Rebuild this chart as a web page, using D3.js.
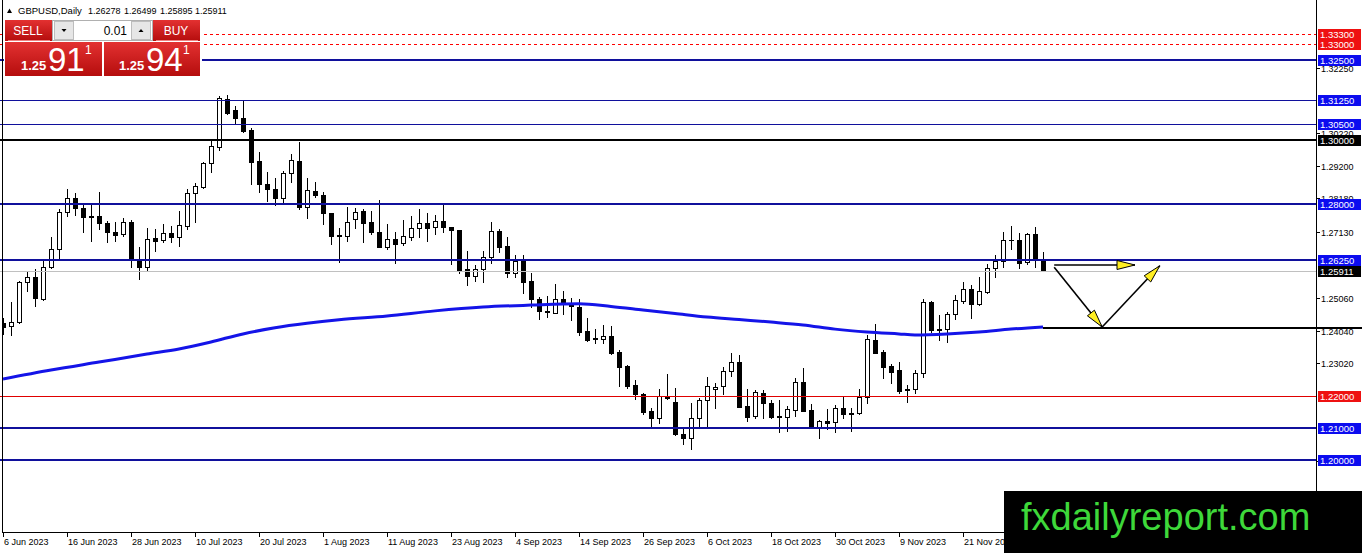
<!DOCTYPE html>
<html><head><meta charset="utf-8">
<script src="https://cdn.jsdelivr.net/npm/d3@7"></script>
<style>html,body{margin:0;padding:0;background:#fff;overflow:hidden}text{font-family:"Liberation Sans",Arial,sans-serif}</style>
</head><body>
<svg id="c" width="1362" height="553" xmlns="http://www.w3.org/2000/svg"></svg>
<script>
// ---------------- DATA ----------------
const symbol = "GBPUSD,Daily";
const lastOHLC = ["1.26278", "1.26499", "1.25895", "1.25911"];
const opens = [1.2429,1.2418,1.2430,1.2555,1.2573,1.2503,1.2604,1.2658,1.2776,1.2818,
1.2787,1.2763,1.2763,1.2742,1.2711,1.2705,1.2743,1.2628,1.2604,1.2693,
1.2688,1.2708,1.2698,1.2732,1.2833,1.2854,1.2927,1.2979,1.3127,1.3094,
1.3068,1.3031,1.2934,1.2862,1.2847,1.2818,1.2896,1.2934,1.2790,1.2841,
1.2828,1.2771,1.2703,1.2701,1.2752,1.2778,1.2743,1.2712,1.2667,1.2690,
1.2678,1.2698,1.2724,1.2740,1.2727,1.2748,1.2727,1.2719,1.2596,1.2575,
1.2596,1.2635,1.2716,1.2669,1.2583,1.2628,1.2559,1.2503,1.2466,1.2460,
1.2502,1.2490,1.2479,1.2403,1.2380,1.2377,1.2388,1.2338,1.2294,1.2234,
1.2205,1.2153,1.2130,1.2198,1.2180,1.2081,1.2070,1.2130,1.2188,1.2221,
1.2231,1.2279,1.2307,1.2169,1.2139,1.2208,1.2177,1.2138,1.2135,1.2156,
1.2243,1.2156,1.2104,1.2122,1.2120,1.2161,1.2146,1.2146,1.2196,1.2375,
1.2336,1.2294,1.2281,1.2219,1.2221,1.2271,1.2495,1.2407,1.2408,1.2455,
1.2498,1.2533,1.2487,1.2526,1.2599,1.2623,1.2688,1.2688,1.2620,1.2706,
1.26278];
const highs = [1.2445,1.2495,1.2560,1.2587,1.2597,1.2622,1.2696,1.2783,1.2847,1.2833,
1.2797,1.2802,1.2837,1.2748,1.2745,1.2757,1.2750,1.2667,1.2726,1.2722,
1.2736,1.2731,1.2778,1.2847,1.2865,1.2930,1.3000,1.3138,1.3141,1.3107,
1.3125,1.3038,1.2963,1.2899,1.2880,1.2903,1.2956,1.2993,1.2880,1.2868,
1.2838,1.2773,1.2724,1.2790,1.2788,1.2783,1.2778,1.2813,1.2736,1.2711,
1.2750,1.2761,1.2783,1.2771,1.2766,1.2800,1.2729,1.2720,1.2653,1.2609,
1.2653,1.2745,1.2722,1.2698,1.2641,1.2640,1.2583,1.2510,1.2513,1.2549,
1.2528,1.2505,1.2502,1.2443,1.2408,1.2422,1.2419,1.2344,1.2296,1.2250,
1.2210,1.2161,1.2221,1.2268,1.2224,1.2096,1.2177,1.2193,1.2258,1.2242,
1.2292,1.2333,1.2328,1.2221,1.2219,1.2219,1.2188,1.2188,1.2169,1.2255,
1.2287,1.2174,1.2124,1.2159,1.2172,1.2200,1.2163,1.2222,1.2391,1.2425,
1.2344,1.2299,1.2305,1.2234,1.2281,1.2503,1.2498,1.2453,1.2463,1.2516,
1.2555,1.2547,1.2571,1.2612,1.2641,1.2712,1.2731,1.2708,1.2710,1.2729,
1.26499];
const lows = [1.2395,1.2391,1.2428,1.2529,1.2482,1.2500,1.2599,1.2628,1.2763,1.2766,
1.2712,1.2685,1.2722,1.2682,1.2685,1.2699,1.2602,1.2566,1.2594,1.2654,
1.2682,1.2682,1.2670,1.2722,1.2745,1.2851,1.2899,1.2969,1.3080,1.3050,
1.3026,1.2862,1.2836,1.2809,1.2797,1.2802,1.2870,1.2785,1.2757,1.2823,
1.2737,1.2675,1.2620,1.2685,1.2724,1.2680,1.2705,1.2665,1.2659,1.2615,
1.2672,1.2688,1.2698,1.2685,1.2706,1.2714,1.2613,1.2583,1.2547,1.2560,
1.2557,1.2617,1.2649,1.2573,1.2572,1.2523,1.2479,1.2441,1.2448,1.2458,
1.2455,1.2438,1.2391,1.2373,1.2367,1.2367,1.2331,1.2231,1.2226,1.2190,
1.2144,1.2107,1.2117,1.2190,1.2078,1.2049,1.2033,1.2102,1.2102,1.2161,
1.2206,1.2263,1.2165,1.2122,1.2130,1.2130,1.2131,1.2087,1.2091,1.2138,
1.2152,1.2102,1.2068,1.2097,1.2089,1.2130,1.2092,1.2144,1.2179,1.2333,
1.2257,1.2240,1.2208,1.2182,1.2208,1.2260,1.2401,1.2375,1.2370,1.2441,
1.2490,1.2445,1.2485,1.2523,1.2571,1.2604,1.2658,1.2599,1.2612,1.2602,
1.25895];
const closes = [1.2417,1.2430,1.2555,1.2573,1.2505,1.2604,1.2658,1.2776,1.2818,1.2787,
1.2758,1.2758,1.2740,1.2711,1.2703,1.2743,1.2628,1.2604,1.2690,1.2685,
1.2708,1.2698,1.2734,1.2833,1.2856,1.2927,1.2981,1.3130,1.3085,1.3068,
1.3029,1.2932,1.2862,1.2846,1.2818,1.2896,1.2938,1.2790,1.2843,1.2827,
1.2771,1.2701,1.2700,1.2745,1.2776,1.2742,1.2711,1.2667,1.2690,1.2675,
1.2700,1.2724,1.2740,1.2726,1.2748,1.2727,1.2719,1.2594,1.2575,1.2596,
1.2635,1.2716,1.2667,1.2583,1.2622,1.2557,1.2502,1.2465,1.2462,1.2502,
1.2487,1.2482,1.2401,1.2375,1.2377,1.2388,1.2335,1.2292,1.2231,1.2205,
1.2151,1.2130,1.2200,1.2193,1.2080,1.2070,1.2130,1.2188,1.2232,1.2229,
1.2279,1.2307,1.2167,1.2135,1.2211,1.2177,1.2133,1.2134,1.2159,1.2243,
1.2154,1.2104,1.2122,1.2115,1.2161,1.2143,1.2143,1.2196,1.2377,1.2335,
1.2292,1.2276,1.2217,1.2221,1.2271,1.2493,1.2406,1.2409,1.2455,1.2500,
1.2533,1.2487,1.2528,1.2599,1.2623,1.2688,1.2686,1.2617,1.2706,1.2627,
1.25911];
// moving average (bar index, value)
const maIdx = [0,6,12,18,22,26,30,34,38,42,48,54,60,66,72,76,80,84,88,92,96,100,104,108,112,114,118,122,126,130];
const maVal = [1.2253,1.2281,1.2306,1.2331,1.2347,1.2369,1.2394,1.2413,1.2427,1.2438,1.2450,1.2466,1.2478,1.2484,1.2488,1.2480,1.2469,1.2458,1.2447,1.2439,1.2431,1.2422,1.2409,1.2400,1.2394,1.2391,1.2394,1.2400,1.2409,1.2416];
// date axis
const dateLabels = ["6 Jun 2023","16 Jun 2023","28 Jun 2023","10 Jul 2023","20 Jul 2023","1 Aug 2023","11 Aug 2023","23 Aug 2023","4 Sep 2023","14 Sep 2023","26 Sep 2023","6 Oct 2023","18 Oct 2023","30 Oct 2023","9 Nov 2023","21 Nov 2023"];
const dateIdx = [0,8,16,24,32,40,48,56,64,72,80,88,96,104,112,120];
// price axis (ticks whose text is still visible behind the level tags)
const priceTicks = [1.3225,1.3022,1.2920,1.2818,1.2713,1.2506,1.2404,1.2302,1.1996];
const priceTickLabels = ["1.32250","1.30220","1.29200","1.28180","1.27130","1.25060","1.24040","1.23020","1.19960"];
// horizontal levels
const levelPrices = [1.3330,1.3300,1.3250,1.3125,1.3050,1.3000,1.2800,1.2625,1.2200,1.2100,1.2000];
const levelLabels = ["1.33300","1.33000","1.32500","1.31250","1.30500","1.30000","1.28000","1.26250","1.22000","1.21000","1.20000"];
const levelKinds = ["reddash","reddash","bluethick","bluethin","bluethin","black","bluethick","bluethick","redthin","bluethick","bluethick"];
const bidPrice = 1.25911, bidLabel = "1.25911";
const supportPrice = 1.24134, supportFromIdx = 130;
// projection arrows (bar index, price)
const arrowFrom = [[131.4,1.26094],[131.4,1.26020],[137.4,1.24156]];
const arrowTo   = [[141.5,1.26094],[137.4,1.24156],[144.6,1.26070]];
const watermark = "fxdailyreport.com";

// ---------------- DRAW ----------------
const svg = d3.select("#c");
const W = 1362, H = 553, axisX = 1316, axisY = 532;
const x = d3.scaleLinear().domain([0, 130]).range([3, 1043]);
const y = d3.scaleLinear().domain([1.2, 1.3]).range([460, 140]);
const px = i => Math.round(x(i));
const py = v => Math.round(y(v));

svg.append("rect").attr("width", W).attr("height", H).attr("fill", "#fff");
const defs = svg.append("defs");
defs.append("clipPath").attr("id", "plot").append("rect").attr("x", 3).attr("y", 0).attr("width", axisX - 3).attr("height", axisY);

// price axis tick labels (drawn first, level labels cover some)
const ax = svg.append("g");
priceTicks.forEach((p, k) => {
  const yy = py(p);
  ax.append("line").attr("x1", axisX).attr("x2", axisX + 4).attr("y1", yy + 0.5).attr("y2", yy + 0.5).attr("stroke", "#000");
  ax.append("text").attr("x", axisX + 5).attr("y", yy + 3.5).attr("font-size", 9).attr("fill", "#000").text(priceTickLabels[k]);
});

// candles
const data = d3.range(opens.length).map(i => ({i, o: opens[i], h: highs[i], l: lows[i], c: closes[i]}));
const cg = svg.append("g").attr("clip-path", "url(#plot)");
const cs = cg.selectAll("g.k").data(data).join("g").attr("class", "k");
cs.append("line")
  .attr("x1", d => px(d.i) + 0.5).attr("x2", d => px(d.i) + 0.5)
  .attr("y1", d => py(d.h)).attr("y2", d => py(d.l) + 1)
  .attr("stroke", "#000").attr("stroke-width", 1);
cs.each(function(d) {
  const g = d3.select(this);
  const top = py(Math.max(d.o, d.c)), bot = py(Math.min(d.o, d.c));
  const cx = px(d.i);
  if (bot - top < 1) {
    g.append("line").attr("x1", cx - 2).attr("x2", cx + 3).attr("y1", top + 0.5).attr("y2", top + 0.5).attr("stroke", "#000");
  } else {
    g.append("rect").attr("x", cx - 1.5).attr("y", top + 0.5).attr("width", 4).attr("height", bot - top)
      .attr("fill", d.c >= d.o ? "#fff" : "#000").attr("stroke", "#000").attr("stroke-width", 1);
  }
});

// moving average
const ma = maIdx.map((d, k) => [d, maVal[k]]);
cg.append("path").datum(ma)
  .attr("d", d3.line().x(d => x(d[0])).y(d => y(d[1])).curve(d3.curveMonotoneX))
  .attr("fill", "none").attr("stroke", "#1414e8").attr("stroke-width", 3);

// horizontal levels
const kindStyle = {
  reddash:   {stroke: "#ff0000", w: 1, dash: "3,3", bg: "#ee1111"},
  bluethick: {stroke: "#10109c", w: 2, dash: null, bg: "#0c0cef"},
  bluethin:  {stroke: "#10109c", w: 1, dash: null, bg: "#0c0cef"},
  black:     {stroke: "#000000", w: 2, dash: null, bg: "#000000"},
  redthin:   {stroke: "#e00000", w: 1, dash: null, bg: "#ee1111"}
};
const lv = svg.append("g");
lv.append("line").attr("x1", 0).attr("x2", axisX).attr("y1", py(bidPrice) + 0.5).attr("y2", py(bidPrice) + 0.5)
  .attr("stroke", "#c0c0c0").attr("stroke-width", 1);
levelPrices.forEach((p, k) => {
  const s = kindStyle[levelKinds[k]];
  const yy = py(p) + (s.w === 1 ? 0.5 : 0);
  const l = lv.append("line").attr("x1", 0).attr("x2", axisX).attr("y1", yy).attr("y2", yy)
    .attr("stroke", s.stroke).attr("stroke-width", s.w);
  if (s.dash) l.attr("stroke-dasharray", s.dash);
});

// axes frame
svg.append("line").attr("x1", 2.5).attr("x2", 2.5).attr("y1", 0).attr("y2", axisY + 1).attr("stroke", "#000");
svg.append("line").attr("x1", axisX + 0.5).attr("x2", axisX + 0.5).attr("y1", 0).attr("y2", axisY + 1).attr("stroke", "#000");
svg.append("line").attr("x1", 2).attr("x2", axisX + 1).attr("y1", axisY + 0.5).attr("y2", axisY + 0.5).attr("stroke", "#000");

// level labels on the axis
const labelBox = (p, txt, bg) => {
  const yy = py(p);
  svg.append("rect").attr("x", axisX + 2).attr("y", yy - 5).attr("width", 43).attr("height", 11).attr("fill", bg);
  svg.append("text").attr("x", axisX + 4).attr("y", yy + 4).attr("font-size", 9.5).attr("fill", "#fff").text(txt);
};
levelPrices.forEach((p, k) => labelBox(p, levelLabels[k], kindStyle[levelKinds[k]].bg));
labelBox(bidPrice, bidLabel, "#000");

// support line (from last bar to the right edge)
svg.append("line").attr("x1", x(supportFromIdx)).attr("x2", W).attr("y1", py(supportPrice)).attr("y2", py(supportPrice))
  .attr("stroke", "#000").attr("stroke-width", 2);

// date axis
dateIdx.forEach((d, k) => {
  const xx = px(d);
  svg.append("line").attr("x1", xx + 0.5).attr("x2", xx + 0.5).attr("y1", axisY).attr("y2", axisY + 5).attr("stroke", "#000");
  svg.append("text").attr("x", xx + 1).attr("y", 545).attr("font-size", 9).attr("fill", "#000").text(dateLabels[k]);
});

// arrows
const ar = svg.append("g");
arrowFrom.forEach((f, k) => {
  const t = arrowTo[k];
  const x1 = x(f[0]), y1 = y(f[1]), x2 = x(t[0]), y2 = y(t[1]);
  ar.append("line").attr("x1", x1).attr("y1", y1).attr("x2", x2).attr("y2", y2).attr("stroke", "#000").attr("stroke-width", 1.6);
  const ang = Math.atan2(y2 - y1, x2 - x1), L = 18, hw = 4.5;
  const bx = x2 - L * Math.cos(ang), by = y2 - L * Math.sin(ang);
  const nx = -Math.sin(ang) * hw, ny = Math.cos(ang) * hw;
  ar.append("polygon").attr("points", [[x2, y2], [bx + nx, by + ny], [bx - nx, by - ny]].map(q => q.join(",")).join(" "))
    .attr("fill", "#ffee22").attr("stroke", "#000").attr("stroke-width", 1);
});

// watermark
svg.append("rect").attr("x", 1004).attr("y", 491).attr("width", W - 1004).attr("height", H - 491).attr("fill", "#000");
svg.append("text").attr("x", 1021).attr("y", 530).attr("font-size", 38).attr("fill", "#3ed83a")
  .attr("font-family", "Liberation Sans, Arial, sans-serif").text(watermark);

// header
svg.append("polygon").attr("points", "7,13 12,13 9.5,8.5").attr("fill", "#000");
svg.append("text").attr("x", 18).attr("y", 14).attr("font-size", 9.5).attr("fill", "#000").text(symbol);
[88, 124, 160, 195].forEach((xx, k) => svg.append("text").attr("x", xx).attr("y", 14).attr("font-size", 9).attr("fill", "#000").text(lastOHLC[k]));

// one-click trading panel
const grad = defs.append("linearGradient").attr("id", "rg").attr("x1", 0).attr("x2", 0).attr("y1", 0).attr("y2", 1);
grad.append("stop").attr("offset", "0").attr("stop-color", "#e33131");
grad.append("stop").attr("offset", "1").attr("stop-color", "#b50d0d");
const pn = svg.append("g");
pn.append("rect").attr("x", 4).attr("y", 19).attr("width", 198).attr("height", 58).attr("fill", "#fff");
pn.append("rect").attr("x", 5).attr("y", 20).attr("width", 47).attr("height", 21).attr("fill", "url(#rg)");
pn.append("rect").attr("x", 153).attr("y", 20).attr("width", 47).attr("height", 21).attr("fill", "url(#rg)");
pn.append("line").attr("x1", 8).attr("x2", 50).attr("y1", 40.5).attr("y2", 40.5).attr("stroke", "#f08080");
pn.append("line").attr("x1", 156).attr("x2", 198).attr("y1", 40.5).attr("y2", 40.5).attr("stroke", "#f08080");
pn.append("text").attr("x", 28).attr("y", 35).attr("text-anchor", "middle").attr("font-size", 12).attr("fill", "#fff").text("SELL");
pn.append("text").attr("x", 176).attr("y", 35).attr("text-anchor", "middle").attr("font-size", 12).attr("fill", "#fff").text("BUY");
pn.append("rect").attr("x", 52.5).attr("y", 20.5).attr("width", 100).attr("height", 20).attr("fill", "#fff").attr("stroke", "#b0b0b0");
pn.append("rect").attr("x", 54.5).attr("y", 21.5).attr("width", 19).attr("height", 18).attr("fill", "#e6e6e6").attr("stroke", "#bdbdbd");
pn.append("rect").attr("x", 131.5).attr("y", 21.5).attr("width", 19).attr("height", 18).attr("fill", "#e6e6e6").attr("stroke", "#bdbdbd");
pn.append("polygon").attr("points", "61.5,29 66.5,29 64,32").attr("fill", "#000");
pn.append("polygon").attr("points", "138.5,32 143.5,32 141,29").attr("fill", "#000");
pn.append("text").attr("x", 127).attr("y", 35).attr("text-anchor", "end").attr("font-size", 12).attr("fill", "#000").text("0.01");
pn.append("rect").attr("x", 5).attr("y", 42).attr("width", 97).attr("height", 34).attr("fill", "url(#rg)");
pn.append("rect").attr("x", 104).attr("y", 42).attr("width", 96).attr("height", 34).attr("fill", "url(#rg)");
const bigPrice = (x0, small, big, sup) => {
  pn.append("text").attr("x", x0).attr("y", 70).attr("font-size", 13).attr("font-weight", "bold").attr("fill", "#fff").text(small);
  pn.append("text").attr("x", x0 + 27).attr("y", 71).attr("font-size", 33).attr("fill", "#fff").text(big);
  pn.append("text").attr("x", x0 + 64).attr("y", 54).attr("font-size", 12).attr("fill", "#fff").text(sup);
};
bigPrice(21, "1.25", "91", "1");
bigPrice(119, "1.25", "94", "1");
</script>
</body></html>
